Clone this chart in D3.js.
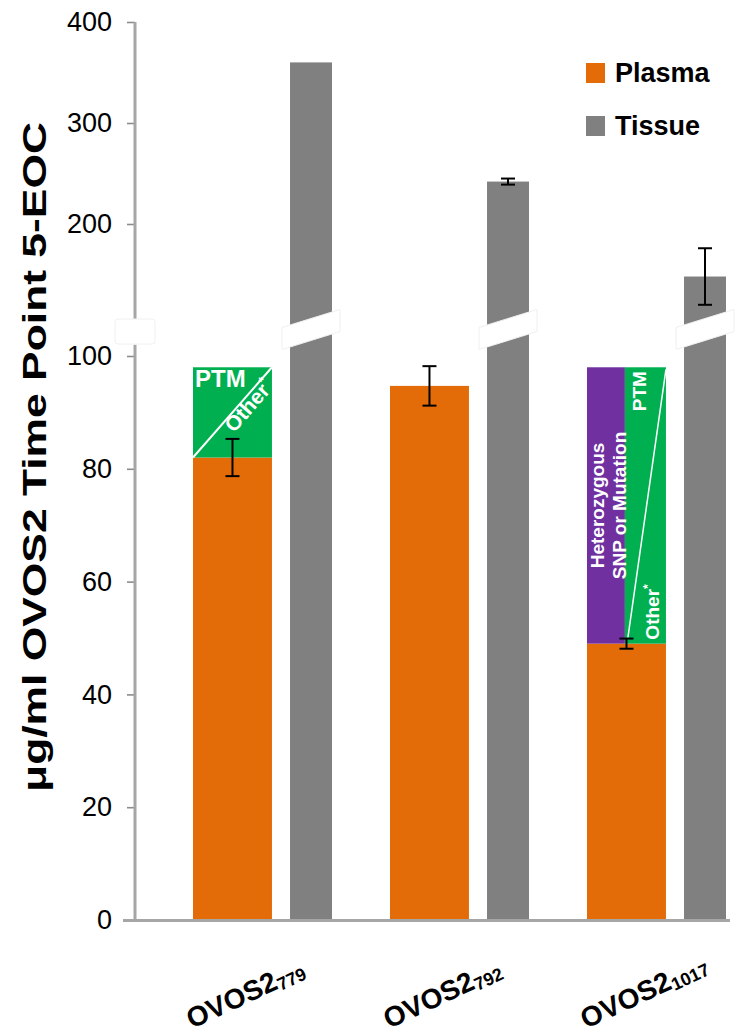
<!DOCTYPE html>
<html>
<head>
<meta charset="utf-8">
<script src="https://cdn.jsdelivr.net/npm/d3@7"></script>
<style>
    body { margin: 0; background: #fff; }
    #chart { width: 736px; height: 1036px; }
    text { font-family: "Liberation Sans", Arial, sans-serif; }
</style>
</head>
<body>
<div id="chart"></div>
<script>
// data
const groups = ["779", "792", "1017"];
const plasma = [82, 94.7, 49];
const plasmaErr = [3.3, 3.5, 0.9];
const tissue = [360, 242, 148];
const tissueErr = [0, 3, 28];
const variantTop = [98, null, 98];   // top of the PTM / SNP block over the plasma bar
const lowerTicks = [0, 20, 40, 60, 80, 100];
const upperTicks = [200, 300, 400];
const legendItems = ["Plasma", "Tissue"];

const colors = {plasma: "#E36C09", tissue: "#808080", ptm: "#00B050", snp: "#7030A0", axis: "#A6A6A6"};

let svg = d3.select("#chart").append("svg")
    .attr("width", 736)
    .attr("height", 1036);

// two y scales for the broken axis
let yLow = d3.scaleLinear().domain([0, 105]).range([920, 327.8]);
let yUp = d3.scaleLinear().domain([100, 400]).range([325, 22]);

let x = d3.scaleBand().domain(groups).range([193, 726]).paddingInner(0.2944).paddingOuter(0);
let bw = x.bandwidth();
let plasmaW = bw * 0.568;
let tissueX = bw * 0.698;
let tissueW = bw * 0.302;

// axes
let lowAxis = svg.append("g")
    .attr("transform", "translate(135,0)")
    .call(d3.axisLeft(yLow).tickValues(lowerTicks).tickSize(8).tickSizeOuter(0).tickPadding(15));
let upAxis = svg.append("g")
    .attr("transform", "translate(135,0)")
    .call(d3.axisLeft(yUp).tickValues(upperTicks).tickSize(8).tickSizeOuter(0).tickPadding(15));
[lowAxis, upAxis].forEach(a => {
    a.select(".domain").remove();
    a.selectAll(".tick line").attr("stroke", "#8c8c8c").attr("stroke-width", 1.6);
    a.selectAll(".tick text").attr("fill", "#000").style("font-size", "27px");
});
svg.append("line")
    .attr("x1", 135).attr("x2", 135)
    .attr("y1", yLow(0)).attr("y2", yLow(102))
    .attr("stroke", colors.axis).attr("stroke-width", 3);
svg.append("line")
    .attr("x1", 135).attr("x2", 135)
    .attr("y1", yUp(400)).attr("y2", yUp(103))
    .attr("stroke", colors.axis).attr("stroke-width", 3);

// break mark on the axis
svg.append("rect")
    .attr("x", 115).attr("y", 319).attr("width", 40).attr("height", 25)
    .attr("rx", 3)
    .attr("fill", "#fff").attr("stroke", "#f0f0f0");

// plasma bars
svg.selectAll(".plasma")
    .data(groups)
    .join("rect")
    .attr("class", "plasma")
    .attr("x", d => x(d))
    .attr("y", (d, i) => yLow(plasma[i]))
    .attr("width", plasmaW)
    .attr("height", (d, i) => yLow(0) - yLow(plasma[i]))
    .attr("fill", colors.plasma);

// tissue bars, lower piece and upper piece
svg.selectAll(".tissue-low")
    .data(groups)
    .join("rect")
    .attr("class", "tissue-low")
    .attr("x", d => x(d) + tissueX)
    .attr("y", yLow(105))
    .attr("width", tissueW)
    .attr("height", yLow(0) - yLow(105))
    .attr("fill", colors.tissue);
svg.selectAll(".tissue-up")
    .data(groups)
    .join("rect")
    .attr("class", "tissue-up")
    .attr("x", d => x(d) + tissueX)
    .attr("y", (d, i) => yUp(tissue[i]))
    .attr("width", tissueW)
    .attr("height", (d, i) => yUp(100) - yUp(tissue[i]))
    .attr("fill", colors.tissue);

// slanted white cut through the tissue bars
svg.selectAll(".cut")
    .data(groups)
    .join("polygon")
    .attr("class", "cut")
    .attr("points", d => {
        let x0 = x(d) + tissueX - 8, x1 = x(d) + tissueX + tissueW + 8;
        return [[x0, 327.5], [x1, 309.5], [x1, 331.5], [x0, 349.5]].join(" ");
    })
    .attr("fill", "#fff")
    .attr("stroke", "#f0f0f0");

// x axis
svg.append("line")
    .attr("x1", 123).attr("x2", 730)
    .attr("y1", 920.5).attr("y2", 920.5)
    .attr("stroke", colors.axis).attr("stroke-width", 3);

// PTM / other block for 779
let g1 = x(groups[0]);
let top1 = yLow(variantTop[0]), bot1 = yLow(plasma[0]);
svg.append("rect")
    .attr("x", g1).attr("y", top1)
    .attr("width", plasmaW).attr("height", bot1 - top1)
    .attr("fill", colors.ptm);
svg.append("line")
    .attr("x1", g1).attr("y1", bot1)
    .attr("x2", g1 + plasmaW).attr("y2", top1)
    .attr("stroke", "#fff").attr("stroke-width", 2);
svg.append("text")
    .attr("x", g1 + 2).attr("y", top1 + 20)
    .attr("fill", "#fff")
    .style("font-size", "24px").style("font-weight", "bold")
    .text("PTM");
let ang = Math.atan2(top1 - bot1, plasmaW) * 180 / Math.PI;
let tx = g1 + plasmaW * 0.63, ty = bot1 + (top1 - bot1) * 0.63;
let other1 = svg.append("text")
    .attr("transform", `translate(${tx},${ty}) rotate(${ang})`)
    .attr("y", 15)
    .attr("text-anchor", "middle")
    .attr("fill", "#fff")
    .style("font-size", "21px").style("font-weight", "bold");
other1.append("tspan").text("Other");
other1.append("tspan").attr("dy", -9).style("font-size", "13px").text("*");

// SNP / PTM / other block for 1017
let g3 = x(groups[2]);
let top3 = yLow(variantTop[2]), bot3 = yLow(plasma[2]);
let snpW = plasmaW * 0.48;
svg.append("rect")
    .attr("x", g3).attr("y", top3)
    .attr("width", snpW).attr("height", bot3 - top3)
    .attr("fill", colors.snp);
svg.append("rect")
    .attr("x", g3 + snpW).attr("y", top3)
    .attr("width", plasmaW - snpW).attr("height", bot3 - top3)
    .attr("fill", colors.ptm);
svg.append("line")
    .attr("x1", g3 + snpW + 3).attr("y1", bot3 - 6)
    .attr("x2", g3 + plasmaW).attr("y2", top3 + 2)
    .attr("stroke", "#fff").attr("stroke-width", 1.5);
svg.append("text")
    .attr("transform", `translate(${g3 + snpW + 21},${top3 + 44}) rotate(-90)`)
    .attr("fill", "#fff")
    .style("font-size", "19px").style("font-weight", "bold")
    .text("PTM");
let other3 = svg.append("text")
    .attr("transform", `translate(${g3 + snpW + 34},${bot3 - 4}) rotate(-90)`)
    .attr("fill", "#fff")
    .style("font-size", "19px").style("font-weight", "bold");
other3.append("tspan").text("Other");
other3.append("tspan").attr("dy", -7).style("font-size", "12px").text("*");
let midY = (top3 + bot3) / 2;
["Heterozygous", "SNP or Mutation"].forEach((t, i) => {
    svg.append("text")
        .attr("transform", `translate(${g3 + 17 + i * 22},${midY}) rotate(-90)`)
        .attr("text-anchor", "middle")
        .attr("fill", "#fff")
        .style("font-size", "19px").style("font-weight", "bold")
        .text(t);
});

// error bars
function errorBar(cx, yHi, yLo) {
    let e = svg.append("g").attr("stroke", "#000").attr("stroke-width", 2);
    e.append("line").attr("x1", cx).attr("x2", cx).attr("y1", yHi).attr("y2", yLo);
    e.append("line").attr("x1", cx - 7).attr("x2", cx + 7).attr("y1", yHi).attr("y2", yHi);
    e.append("line").attr("x1", cx - 7).attr("x2", cx + 7).attr("y1", yLo).attr("y2", yLo);
}
groups.forEach((g, i) => {
    let cx = x(g) + plasmaW / 2;
    errorBar(cx, yLow(plasma[i] + plasmaErr[i]), yLow(plasma[i] - plasmaErr[i]));
    if (tissueErr[i] > 0) {
        let tcx = x(g) + tissueX + tissueW / 2;
        errorBar(tcx, yUp(tissue[i] + tissueErr[i]), yUp(tissue[i] - tissueErr[i]));
    }
});

// x labels
groups.forEach(g => {
    let t = svg.append("text")
        .attr("transform", `translate(${x(g) - 1},1029) rotate(-25)`)
        .attr("fill", "#000")
        .style("font-size", "28px").style("font-weight", "bold");
    t.append("tspan").text("OVOS2");
    t.append("tspan").attr("dy", 3).style("font-size", "18px").text(g);
});

// y label
svg.append("text")
    .attr("transform", "translate(46,457) rotate(-90)")
    .attr("text-anchor", "middle")
    .attr("textLength", 670)
    .attr("lengthAdjust", "spacingAndGlyphs")
    .attr("fill", "#000")
    .style("font-size", "33px").style("font-weight", "bold")
    .text("μg/ml OVOS2 Time Point 5-EOC");

// legend
let legend = svg.selectAll(".legend")
    .data(legendItems)
    .join("g")
    .attr("class", "legend")
    .attr("transform", (d, i) => `translate(586,${63 + i * 53})`);
legend.append("rect")
    .attr("width", 19).attr("height", 20)
    .attr("fill", (d, i) => i === 0 ? colors.plasma : colors.tissue);
legend.append("text")
    .attr("x", 29).attr("y", 19)
    .attr("fill", "#000")
    .style("font-size", "27px").style("font-weight", "bold")
    .text(d => d);
</script>
</body>
</html>
